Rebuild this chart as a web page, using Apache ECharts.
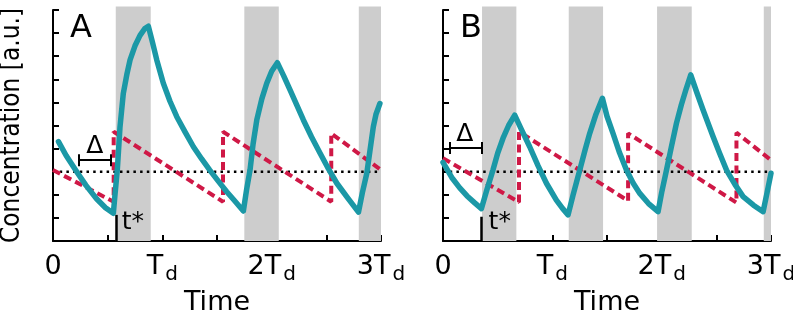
<!DOCTYPE html>
<html>
<head>
<meta charset="utf-8">
<script src="https://cdn.jsdelivr.net/npm/echarts@6/dist/echarts.min.js"></script>
<style>
  html, body { margin: 0; padding: 0; background: #fff; }
  #root { width: 793px; height: 312px; }
</style>
</head>
<body>
<div id="root"></div>
<script>
// time in units of Td, concentration in a.u. (0..10)
var tickValues = [0, 1, 2, 3]
var tickMain = ['0', 'T', '2T', '3T']
var tickSub = ['', 'd', 'd', 'd']
var threshold = 3

var bandsA = [[0.574, 0.894], [1.750, 2.065], [2.797, 3.0]]
var bandsB = [[0.357, 0.671], [1.150, 1.464], [1.958, 2.275], [2.934, 3.0]]

var tealA = [
  [0.05, 4.30], [0.12, 3.70], [0.217, 3.0], [0.30, 2.42], [0.40, 1.82], [0.48, 1.44], [0.552, 1.2],
  [0.565, 1.9], [0.588, 3.07], [0.613, 4.95], [0.643, 6.39], [0.675, 7.2], [0.705, 7.84], [0.75, 8.45],
  [0.796, 8.9], [0.84, 9.2], [0.872, 9.3],
  [0.91, 8.6], [0.949, 7.84], [1.009, 6.83], [1.07, 6.05], [1.132, 5.38], [1.21, 4.7], [1.284, 4.08],
  [1.36, 3.55], [1.434, 3.07], [1.51, 2.6], [1.589, 2.13], [1.665, 1.72], [1.741, 1.30],
  [1.77, 2.2], [1.802, 3.07], [1.83, 4.2], [1.864, 5.24], [1.91, 6.15], [1.955, 6.83], [2.0, 7.35], [2.052, 7.72],
  [2.11, 7.15], [2.168, 6.54], [2.23, 5.88], [2.29, 5.24], [2.365, 4.5], [2.443, 3.8], [2.52, 3.12],
  [2.596, 2.5], [2.70, 1.83], [2.794, 1.25],
  [2.83, 2.1], [2.87, 2.93], [2.90, 3.95], [2.93, 4.95], [2.955, 5.5], [2.99, 5.95]
]
var tealB = [
  [0.0, 3.4], [0.08, 2.75], [0.153, 2.3], [0.22, 1.95], [0.29, 1.65], [0.351, 1.40],
  [0.40, 2.2], [0.457, 3.07], [0.50, 3.8], [0.549, 4.45], [0.60, 5.0], [0.656, 5.45],
  [0.72, 4.8], [0.793, 4.08], [0.87, 3.25], [0.946, 2.5], [1.037, 1.77], [1.095, 1.4], [1.144, 1.13],
  [1.19, 2.0], [1.251, 3.07], [1.30, 3.95], [1.342, 4.66], [1.40, 5.5], [1.458, 6.18],
  [1.50, 5.4], [1.555, 4.66], [1.615, 3.82], [1.678, 3.07], [1.74, 2.5], [1.8, 2.06], [1.88, 1.62], [1.967, 1.27],
  [2.0, 2.1], [2.044, 3.07], [2.09, 4.1], [2.135, 5.09], [2.18, 5.9], [2.225, 6.6], [2.266, 7.19],
  [2.32, 6.45], [2.379, 5.67], [2.47, 4.52], [2.53, 3.8], [2.593, 3.07], [2.67, 2.45], [2.745, 1.92],
  [2.84, 1.55], [2.928, 1.27],
  [2.96, 2.0], [3.0, 2.93]
]
var redA = [
  [0, 3.07], [0.555, 1.70], [0.555, 4.73], [1.555, 1.70], [1.555, 4.73],
  [2.545, 1.70], [2.545, 4.66], [3.0, 3.07]
]
var redB = [
  [0, 3.58], [0.695, 1.68], [0.695, 4.73], [1.693, 1.74], [1.693, 4.66],
  [2.684, 1.66], [2.684, 4.69], [3.0, 3.5]
]
// delta bar [t0, t1, level], t* position and height
var deltaA = [0.24, 0.528, 3.5]
var deltaB = [0.061, 0.351, 4.03]
var tStarA = [0.574, 1.13]
var tStarB = [0.351, 1.05]
var deltaLabelA = [0.382, 4.11]
var deltaLabelB = [0.199, 4.59]
var tStarLabelA = [0.73, 0.82]
var tStarLabelB = [0.519, 0.78]

var FONT = 'DejaVu Sans'
var TEAL = '#1b98a6'
var RED = '#cf1846'
var GRAY = '#cdcdcd'

function xAxisFor (idx) {
  return {
    gridIndex: idx, type: 'value', min: 0, max: 3, interval: 0.5,
    name: 'Time', nameLocation: 'middle', nameGap: 47,
    nameTextStyle: { fontFamily: FONT, fontSize: 27, color: '#000' },
    axisLine: { lineStyle: { color: '#000', width: 2 } },
    axisTick: { inside: true, length: 6, lineStyle: { color: '#000', width: 2 } },
    splitLine: { show: false },
    axisLabel: {
      showMinLabel: true, showMaxLabel: true, hideOverlap: false, margin: 12,
      fontFamily: FONT, color: '#000',
      formatter: function (v) {
        var i = tickValues.indexOf(v)
        if (i < 0) return ''
        return tickSub[i] ? '{m|' + tickMain[i] + '}{s|' + tickSub[i] + '}' : '{m|' + tickMain[i] + '}'
      },
      rich: {
        m: { fontFamily: FONT, fontSize: 27, color: '#000', verticalAlign: 'top', lineHeight: 32 },
        s: { fontFamily: FONT, fontSize: 20, color: '#000', verticalAlign: 'top', lineHeight: 24, padding: [12, 0, 0, 2] }
      }
    }
  }
}

function yAxisFor (idx, named) {
  return {
    gridIndex: idx, type: 'value', min: 0, max: 10, interval: 1,
    name: named ? 'Concentration [a.u.]' : '', nameLocation: 'middle', nameGap: 28, nameRotate: 90,
    nameTextStyle: { fontFamily: 'DejaVu Sans Condensed', fontSize: 26, color: '#000' },
    axisLine: { show: true, lineStyle: { color: '#000', width: 2 } },
    axisTick: { show: true, inside: true, length: 6, lineStyle: { color: '#000', width: 2 } },
    axisLabel: { show: false },
    splitLine: { show: false }
  }
}

function panelSeries (idx, bands, teal, red, delta, tStar, dLab, tLab) {
  return [
    {
      type: 'custom', xAxisIndex: idx, yAxisIndex: idx, clip: false, z: 1,
      data: bands,
      renderItem: function (params, api) {
        var p0 = api.coord([api.value(0), 0])
        var p1 = api.coord([api.value(1), 10.15])
        return { type: 'rect', shape: { x: p0[0], y: p1[1], width: p1[0] - p0[0], height: p0[1] - p1[1] }, style: { fill: GRAY } }
      }
    },
    {
      type: 'line', xAxisIndex: idx, yAxisIndex: idx, z: 2, symbol: 'none',
      data: [[0, threshold], [3, threshold]],
      lineStyle: { color: '#000', width: 2.5, type: [2.5, 4.2] }
    },
    {
      type: 'line', xAxisIndex: idx, yAxisIndex: idx, z: 3, symbol: 'none',
      data: red,
      lineStyle: { color: RED, width: 4, type: [8, 4.5] }
    },
    {
      type: 'line', xAxisIndex: idx, yAxisIndex: idx, z: 4, symbol: 'none',
      data: teal,
      lineStyle: { color: TEAL, width: 5.5, join: 'round', cap: 'round' }
    },
    {
      type: 'line', xAxisIndex: idx, yAxisIndex: idx, z: 5, symbol: 'none', data: [],
      markLine: {
        silent: true, symbol: ['none', 'none'], label: { show: false },
        lineStyle: { color: '#000', width: 2, type: 'solid' },
        data: [
          [{ coord: [delta[0], delta[2]] }, { coord: [delta[1], delta[2]] }],
          [{ coord: [delta[0], delta[2] - 0.26] }, { coord: [delta[0], delta[2] + 0.26] }],
          [{ coord: [delta[1], delta[2] - 0.26] }, { coord: [delta[1], delta[2] + 0.26] }],
          [{ coord: [tStar[0], 0], lineStyle: { width: 2.5 } }, { coord: [tStar[0], tStar[1]] }]
        ]
      }
    },
    {
      type: 'scatter', xAxisIndex: idx, yAxisIndex: idx, z: 6, symbolSize: 0,
      itemStyle: { opacity: 1 },
      data: [{ name: 'Δ', value: dLab }, { name: 't*', value: tLab }],
      label: {
        show: true, position: 'inside', formatter: '{b}',
        fontFamily: FONT, fontSize: 25, color: '#000'
      }
    }
  ]
}

var chart = echarts.init(document.getElementById('root'))
chart.setOption({
  animation: false,
  grid: [
    { left: 53, top: 10, width: 328, height: 231, outerBoundsMode: 'none', containLabel: false },
    { left: 443, top: 10, width: 328, height: 231, outerBoundsMode: 'none', containLabel: false }
  ],
  xAxis: [xAxisFor(0), xAxisFor(1)],
  yAxis: [yAxisFor(0, true), yAxisFor(1, false)],
  graphic: [
    { type: 'text', left: 70, top: 13, style: { text: 'A', fontFamily: FONT, fontSize: 32, fill: '#000' } },
    { type: 'text', left: 460, top: 13, style: { text: 'B', fontFamily: FONT, fontSize: 32, fill: '#000' } }
  ],
  series: panelSeries(0, bandsA, tealA, redA, deltaA, tStarA, deltaLabelA, tStarLabelA)
    .concat(panelSeries(1, bandsB, tealB, redB, deltaB, tStarB, deltaLabelB, tStarLabelB))
})
</script>
</body>
</html>
